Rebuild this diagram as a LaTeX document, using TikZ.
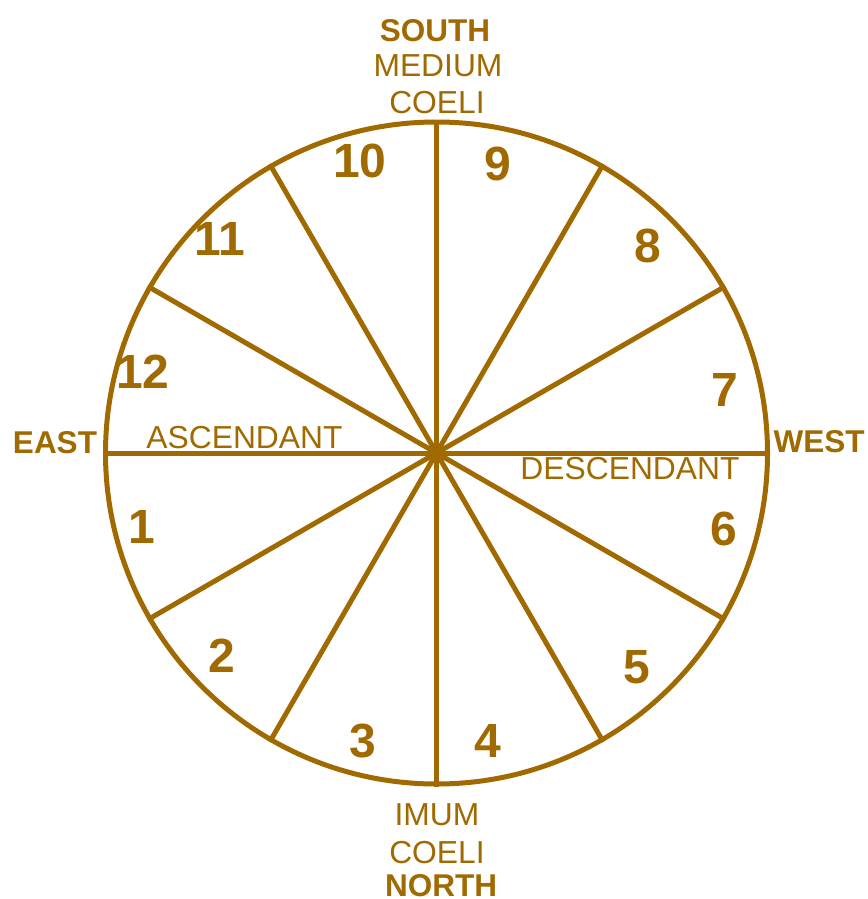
\documentclass[tikz,border=0pt]{standalone}
\usepackage{fontspec}
\setmainfont{Liberation Sans}
\definecolor{gold}{RGB}{160,106,0}
\begin{document}
\begin{tikzpicture}[x=1pt,y=-1pt,
  wheelline/.style={draw=gold, line width=5pt},
  lbl/.style={text=gold, font=\fontsize{31.8}{32}\selectfont, anchor=base, inner sep=0pt},
  blbl/.style={text=gold, font=\fontsize{31.5}{32}\selectfont\bfseries, anchor=base, inner sep=0pt},
  num/.style={text=gold, font=\fontsize{48}{48}\selectfont\bfseries, anchor=base, inner sep=0pt}]
\useasboundingbox (0,0) rectangle (867,899);
\node[circle, wheelline, minimum size=662pt, inner sep=0pt] (wheel) at (436.5,453) {};
\foreach \a in {0,30,60,90,120,150}{
  \pgfmathtruncatemacro{\b}{\a+180}
  \draw[wheelline] (wheel.\a) -- (wheel.\b);
}
% axis labels
\node[blbl] (south) at (435,42) {SOUTH};
\node[lbl] (medium) at (438,76) {MEDIUM};
\node[lbl] (coeliS) at (437,113) {COELI};
\node[lbl] (imum) at (437,825) {IMUM};
\node[lbl] (coeliN) at (437,863) {COELI};
\node[blbl] (north) at (441,896) {NORTH};
\node[blbl] (east) at (55,453) {EAST};
\node[blbl] (west) at (819,452) {WEST};
\node[lbl] (asc) at (244.5,448) {ASCENDANT};
\node[lbl] (desc) at (630,479) {DESCENDANT};
% house numbers
\node[num] (h10) at (360,177) {10};
\node[num] (h9) at (498,180) {9};
\node[num] (h11) at (220,255) {11};
\node[num] (h8) at (648,262) {8};
\node[num] (h12) at (143,388) {12};
\node[num] (h7) at (725,406) {7};
\node[num] (h1) at (142,543) {1};
\node[num] (h6) at (724,545) {6};
\node[num] (h2) at (222,672) {2};
\node[num] (h5) at (637,683) {5};
\node[num] (h3) at (363,757) {3};
\node[num] (h4) at (488,757) {4};
\end{tikzpicture}
\end{document}
